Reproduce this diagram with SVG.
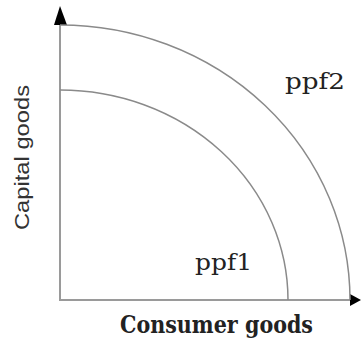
<svg xmlns="http://www.w3.org/2000/svg" width="361" height="341" viewBox="0 0 361 341">
<style>
.axis{stroke:#9a9a9a;stroke-width:2;fill:none}
.curve{stroke:#8a8a8a;stroke-width:1.5;fill:none}
.head{fill:#000}
.lbl{font-family:"DejaVu Serif","Liberation Serif",serif;fill:#222}
.ylbl{font-family:"Liberation Sans",Arial,sans-serif;fill:#333}
</style>
<rect width="361" height="341" fill="#fff"/>
<g id="axes">
<line class="axis" x1="60" y1="22" x2="60" y2="300"/>
<line class="axis" x1="59" y1="300" x2="352" y2="300"/>
<polygon class="head" points="60,6 54,25 67,25"/>
<polygon class="head" points="361,300 350,294 350,306"/>
</g>
<g id="connectors">
<path id="ppf2-curve" class="curve" d="M60,25 A290,275 0 0 1 350,300"/>
<path id="ppf1-curve" class="curve" d="M60,90 A228,210 0 0 1 288,300"/>
</g>
<g id="ppf2"><text class="lbl" x="285" y="89" font-size="22" textLength="60" lengthAdjust="spacingAndGlyphs">ppf2</text></g>
<g id="ppf1"><text class="lbl" x="195" y="270" font-size="22" textLength="57" lengthAdjust="spacingAndGlyphs">ppf1</text></g>
<g id="xlabel"><text class="lbl" x="120" y="333" font-size="24" font-weight="bold" textLength="193" lengthAdjust="spacingAndGlyphs">Consumer goods</text></g>
<g id="ylabel"><text class="ylbl" transform="translate(29,157.5) rotate(-90)" text-anchor="middle" font-size="21" textLength="145" lengthAdjust="spacingAndGlyphs">Capital goods</text></g>
</svg>
